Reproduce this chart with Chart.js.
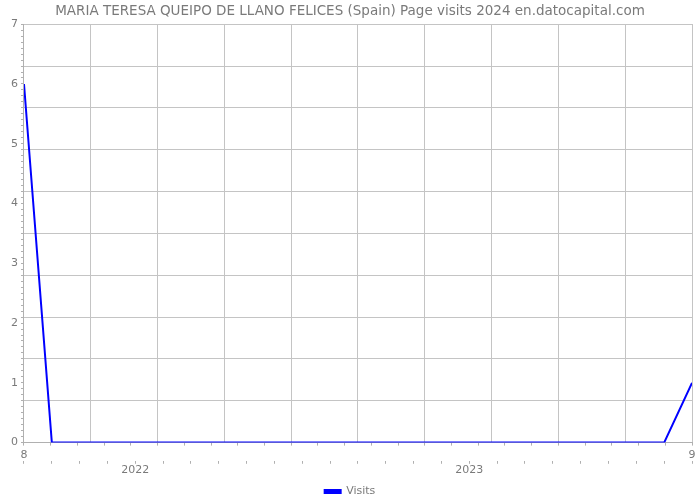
<!DOCTYPE html>
<html><head><meta charset="utf-8">
<script src="https://cdn.jsdelivr.net/npm/chart.js@4.4.1/dist/chart.umd.min.js"></script>
<style>html,body{margin:0;padding:0;background:#fff}#wrap{width:700px;height:500px;position:relative}</style>
</head><body><div id="wrap"><canvas id="c"></canvas></div>
<script>
// ---- data ----
const months = ['2021-08','2021-09','2021-10','2021-11','2021-12','2022-01','2022-02','2022-03','2022-04','2022-05','2022-06','2022-07','2022-08','2022-09','2022-10','2022-11','2022-12','2023-01','2023-02','2023-03','2023-04','2023-05','2023-06','2023-07','2023-08'];
const visits = [6,0,0,0,0,0,0,0,0,0,0,0,0,0,0,0,0,0,0,0,0,0,0,0,1];
const edgeLabels = ['8','9'];
const yearLabels = ['2022','2023'];
const yearIndex = [4,16];
const yLabels = ['0','1','2','3','4','5','6','7'];
const titleText = 'MARIA TERESA QUEIPO DE LLANO FELICES (Spain) Page visits 2024 en.datocapital.com';
const seriesName = 'Visits';

// ---- style ----
const FONT = 'DejaVu Sans';
const TXT = '#7a7a7a';
const GRID = '#c4c4c4';
const AXIS = '#b0b0b0';
const LAST = months.length - 1;

const points = visits.map((v, i) => ({x: i, y: v}));

new Chart(document.getElementById('c'), {
  type: 'line',
  data: { datasets: [{
    label: seriesName, data: points, xAxisID: 'x', yAxisID: 'y',
    borderColor: '#0000ff', backgroundColor: '#0000ff', borderWidth: 2,
    pointRadius: 0, tension: 0
  }]},
  options: {
    responsive: true, maintainAspectRatio: false, animation: false,
    layout: { padding: { left: 8, right: 8, top: 0, bottom: -7 } },
    plugins: {
      title: { display: true, text: titleText, color: TXT,
        font: { family: FONT, size: 13.5, weight: 'normal' }, padding: { top: 3, bottom: 5 } },
      legend: { position: 'bottom',
        labels: { color: TXT, boxWidth: 16, boxHeight: 3, padding: 1,
          font: { family: FONT, size: 11 } } },
      tooltip: { enabled: false }
    },
    scales: {
      x: { type: 'linear', min: 0, max: LAST, position: 'bottom',
        afterBuildTicks: s => { const t = []; for (let k = 0; k <= 25; k++) t.push({ value: k * LAST / 25 }); s.ticks = t; },
        afterFit: s => { s.height -= 3; },
        ticks: { autoSkip: false, maxRotation: 0, padding: 2.5, color: TXT,
          font: { family: FONT, size: 11 },
          callback: (v, i) => i === 0 ? edgeLabels[0] : (i === 25 ? edgeLabels[1] : '') },
        grid: { drawOnChartArea: false, tickLength: 3, color: AXIS },
        border: { color: AXIS } },
      xYear: { type: 'linear', min: 0, max: LAST, position: 'bottom',
        afterBuildTicks: s => { s.ticks = months.map((m, i) => ({ value: i })); },
        afterFit: s => { s.height += 8; },
        ticks: { autoSkip: false, maxRotation: 0, padding: 0, color: TXT,
          font: { family: FONT, size: 11 },
          callback: v => { const k = yearIndex.indexOf(v); return k >= 0 ? yearLabels[k] : ''; } },
        grid: { drawOnChartArea: false, tickLength: 3, color: AXIS },
        border: { display: false } },
      xg: { type: 'linear', min: 0, max: 10, position: 'top',
        afterBuildTicks: s => { const t = []; for (let k = 0; k <= 10; k++) t.push({ value: k }); s.ticks = t; },
        ticks: { display: false }, grid: { color: GRID, drawTicks: false }, border: { display: false } },
      y: { type: 'linear', min: 0, max: 7, position: 'left',
        afterBuildTicks: s => { const t = []; for (let k = 0; k <= 70; k++) t.push({ value: k / 10 }); s.ticks = t; },
        ticks: { autoSkip: false, padding: 3, color: TXT, font: { family: FONT, size: 11 },
          callback: (v, i) => i % 10 === 0 ? yLabels[i / 10] : '' },
        grid: { drawOnChartArea: false, tickLength: 3, color: AXIS },
        border: { color: AXIS } },
      yg: { type: 'linear', min: 0, max: 10, position: 'right',
        afterBuildTicks: s => { const t = []; for (let k = 0; k <= 10; k++) t.push({ value: k }); s.ticks = t; },
        ticks: { display: false }, grid: { color: GRID, drawTicks: false }, border: { display: false } }
    }
  }
});
</script>
</body></html>
